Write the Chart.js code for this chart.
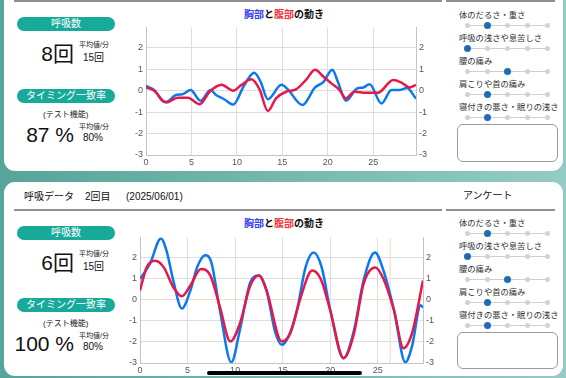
<!DOCTYPE html>
<html>
<head>
<meta charset="utf-8">
<script src="https://cdn.jsdelivr.net/npm/chart.js@4.4.1/dist/chart.umd.min.js"></script>
<style>
  body { margin: 0; width: 566px; height: 378px; overflow: hidden; position: relative;
    background: linear-gradient(to right, #56a49a, #94ccc5);
    font-family: "Liberation Sans", "Noto Sans CJK JP", sans-serif; color: #111; }
  .a { position: absolute; white-space: nowrap; line-height: 1; }
  .card { position: absolute; left: 4px; width: 559px; background: #fff; border-radius: 11px; }
  .rule { position: absolute; height: 2px; background: #8e8e8e; }
  .pill { position: absolute; left: 17px; width: 98px; height: 14px; border-radius: 7px;
    background: #17a999; color: #fff; font-size: 10px; line-height: 14px; text-align: center; }
  .big { font-size: 21px; width: 74px; left: 0; text-align: right; }
  .small { font-size: 7px; color: #222; }
  .mid { font-size: 10px; }
  .q { font-size: 8.3px; color: #333; left: 459px; }
  .track { position: absolute; left: 467px; width: 80px; height: 1px; background: #cfcfcf; }
  .dot { position: absolute; width: 5px; height: 5px; border-radius: 50%; background: #d3d3d3; }
  .dot.on { width: 7px; height: 7px; background: #1d6db5; }
  .memo { position: absolute; left: 457px; width: 99px; border: 1px solid #9a9a9a; border-radius: 6px; background: #fff; }
  .title { font-size: 10px; font-weight: bold; width: 200px; left: 184px; text-align: center; }
  canvas { position: absolute; }
</style>
</head>
<body>
<div class="card" style="top:-20px;height:191px"></div>
<div class="card" style="top:182px;height:194px"></div>
<div class="rule" style="left:14px;width:428px;top:0"></div>
<div class="rule" style="left:446px;width:109px;top:0"></div>
<div class="rule" style="left:14px;width:428px;top:209px"></div>
<div class="rule" style="left:446px;width:109px;top:209px"></div>
<div class="a" style="left:24px;top:192px;font-size:10px">呼吸データ</div>
<div class="a" style="left:85px;top:192px;font-size:10px">2回目</div>
<div class="a" style="left:126px;top:192px;font-size:10px">(2025/06/01)</div>
<div class="a" style="left:463px;top:191px;font-size:10px">アンケート</div>
<div class="a title" style="top:10px"><span style="color:#3340f0">胸部</span>と<span style="color:#f0323c">腹部</span>の動き</div>
<div class="a title" style="top:219px"><span style="color:#3340f0">胸部</span>と<span style="color:#f0323c">腹部</span>の動き</div>
<canvas id="chart1" width="310" height="150" style="left:126px;top:19px"></canvas>
<canvas id="chart2" width="323" height="148" style="left:120px;top:229px"></canvas>
<div class="a" style="left:207px;top:371px;width:155px;height:4px;border-radius:2px;background:#000"></div>
<script>
// 呼吸データ 1回目 / 2回目
const breathCount = ["8回", "6回"];
const breathAvg = ["15回", "15回"];
const matchRate = ["87 %", "100 %"];
const matchAvg = ["80%", "80%"];
const cardTop = [0, 209];

// アンケート
const questions = ["体のだるさ・重さ", "呼吸の浅さや息苦しさ", "腰の痛み", "肩こりや首の痛み", "寝付きの悪さ・眠りの浅さ"];
const answers1 = [1, 0, 2, 1, 1];
const answers2 = [1, 0, 2, 1, 1];

// 胸部 (blue) と 腹部 (red), 1回目
const chestX1 = [0, 0.9, 2.0, 2.4, 3.3, 4.0, 4.9, 6.0, 7.1, 7.7, 8.6, 9.6, 10.8, 11.9, 12.6, 13.4, 14.9, 15.6, 17.2, 18.6, 19.5, 20.5, 21.1, 22.0, 23.2, 23.9, 24.6, 25.9, 27.0, 27.8, 28.7, 29.7];
const chestY1 = [0.22, 0.03, -0.52, -0.5, -0.2, -0.17, 0.03, -0.47, 0.03, -0.2, -0.4, -0.65, 0.25, 0.83, 0.42, -0.4, 0.27, 0.06, -0.67, 0.15, 0.4, 0.98, 0.42, -0.47, 0.1, 0.15, 0.3, -0.6, 0.03, 0.03, 0.12, -0.37];
const bellyX1 = [0, 0.9, 2.2, 3.5, 4.6, 5.9, 7.0, 8.3, 9.6, 10.5, 11.6, 12.5, 13.4, 14.3, 15.4, 16.5, 17.6, 18.6, 19.5, 20.4, 21.3, 22.0, 22.9, 24.2, 25.5, 27.2, 28.1, 29.0, 29.7];
const bellyY1 = [0.15, 0, -0.55, -0.33, -0.33, -0.63, -0.05, 0.27, 0, 0.27, 0.53, 0.05, -0.95, -0.36, -0.05, 0.06, 0.5, 0.97, 0.66, 0.34, 0.03, -0.36, -0.05, -0.1, -0.1, 0.5, 0.38, 0.15, 0.27];

// 2回目
const chestX2 = [0, 1.05, 2.2, 2.8, 3.5, 4.4, 5.3, 6.0, 6.85, 7.5, 8.4, 9.6, 10.5, 11.6, 12.5, 13.3, 14.2, 14.9, 15.6, 16.5, 17.4, 18.25, 19.1, 20.0, 21.4, 22.5, 23.5, 24.7, 25.6, 26.7, 27.9, 28.6, 29.5, 29.75];
const chestY2 = [0.98, 1.7, 2.9, 2.3, 0.9, -0.42, 0.44, 1.53, 2.1, 1.77, -0.5, -2.97, -1.44, 0.83, 1.15, 0.44, -1.52, -2.14, -1.75, -0.5, 1.53, 2.23, 1.53, -0.5, -2.77, -1.44, 0.9, 2.23, 1.37, -0.5, -2.97, -2.2, -0.27, -0.37];
const bellyX2 = [0, 0.7, 1.6, 2.5, 3.5, 4.4, 5.3, 6.4, 7.4, 8.4, 9.5, 10.5, 11.6, 12.5, 13.3, 14.9, 15.8, 16.8, 18.1, 19.0, 20.0, 21.4, 22.5, 23.5, 24.75, 25.6, 26.7, 27.7, 28.6, 29.75];
const bellyY2 = [0.44, 1.53, 1.84, 1.53, 0.59, 0.16, 0.67, 1.45, 1.14, -0.34, -1.98, -1.13, 0.67, 1.14, 0.44, -1.98, -1.59, -0.03, 1.38, 0.98, -0.5, -2.77, -1.59, 0.75, 1.53, 0.98, -0.5, -2.3, -1.59, 0.91];
const markerX2 = [26.3, 26.3];
const markerY2 = [-3, 2.95];

function el(cls, style, text) {
  const d = document.createElement("div");
  d.className = cls;
  d.style.cssText = style;
  if (text) d.textContent = text;
  document.body.appendChild(d);
}

// left column of each card
cardTop.forEach((t, i) => {
  el("pill", `top:${t + 17}px`, "呼吸数");
  el("a big", `top:${t + 43}px`, breathCount[i]);
  el("a small", `left:79px;top:${t + 41}px`, "平均値/分");
  el("a mid", `left:83px;top:${t + 53}px`, breathAvg[i]);
  el("pill", `top:${t + 89}px`, "タイミング一致率");
  el("a small", `left:43px;top:${t + 111}px;font-size:8px`, "(テスト機能)");
  el("a big", `top:${t + 124}px`, matchRate[i]);
  el("a small", `left:79px;top:${t + 123}px`, "平均値/分");
  el("a mid", `left:83px;top:${t + 133}px`, matchAvg[i]);
});

// survey sliders
[[0, answers1], [208, answers2]].forEach(([t, ans]) => {
  questions.forEach((q, k) => {
    const y = t + 15 + k * 23;
    el("a q", `top:${y - 4}px`, q);
    el("track", `top:${y + 10}px`);
    for (let s = 0; s < 5; s++) {
      const on = s === ans[k];
      const r = on ? 3.5 : 2.5;
      el(on ? "dot on" : "dot", `left:${467 + s * 20 - r}px;top:${y + 10.5 - r}px`);
    }
  });
  el("memo", `top:${t + 124}px;height:${t ? 35 : 36}px`);
});

function pts(xs, ys) {
  return xs.map((x, i) => ({ x: x, y: ys[i] }));
}

function line(xs, ys, color, width) {
  return {
    data: pts(xs, ys),
    borderColor: color,
    borderWidth: width,
    pointRadius: 0,
    fill: false,
    cubicInterpolationMode: "monotone",
  };
}

function scales(xMax, zeroColor) {
  const tickFont = { size: 9, family: "Liberation Sans" };
  const gridColor = (c) => (c.tick && c.tick.value === 0 && zeroColor ? zeroColor : "#dedede");
  const yAxis = (pos) => ({
    position: pos,
    min: -3,
    max: 2.95,
    bounds: "data",
    ticks: { stepSize: 1, includeBounds: false, padding: 3, color: "#555", font: tickFont },
    grid: { display: pos === "left", drawTicks: false, color: gridColor },
    border: { color: "#c4c4c4" },
    afterFit: (s) => { s.width = 20; },
  });
  return {
    x: {
      type: "linear",
      min: 0,
      max: xMax,
      bounds: "data",
      ticks: { stepSize: 5, includeBounds: false, padding: 2, maxRotation: 0, color: "#555", font: tickFont },
      grid: { drawTicks: false, color: "#dedede" },
      border: { color: "#c4c4c4" },
      afterFit: (s) => { s.height = 14; },
    },
    y: yAxis("left"),
    y2: yAxis("right"),
  };
}

const common = {
  responsive: false,
  animation: false,
  layout: { padding: 0 },
  plugins: { legend: { display: false }, tooltip: { enabled: false } },
};

new Chart(document.getElementById("chart1"), {
  type: "line",
  data: {
    datasets: [
      line(bellyX1, bellyY1, "#e8174a", 2.5),
      line(chestX1, chestY1, "#0a78f0", 2.5),
    ],
  },
  options: Object.assign({ scales: scales(29.7, null) }, common),
});

new Chart(document.getElementById("chart2"), {
  type: "line",
  data: {
    datasets: [
      line(bellyX2, bellyY2, "#e8174a", 2.5),
      line(chestX2, chestY2, "#0a78f0", 2.5),
      line(markerX2, markerY2, "#f7e4cf", 1.5),
    ],
  },
  options: Object.assign({ scales: scales(29.75, "#f3dcc3") }, common),
});
</script>
</body>
</html>
